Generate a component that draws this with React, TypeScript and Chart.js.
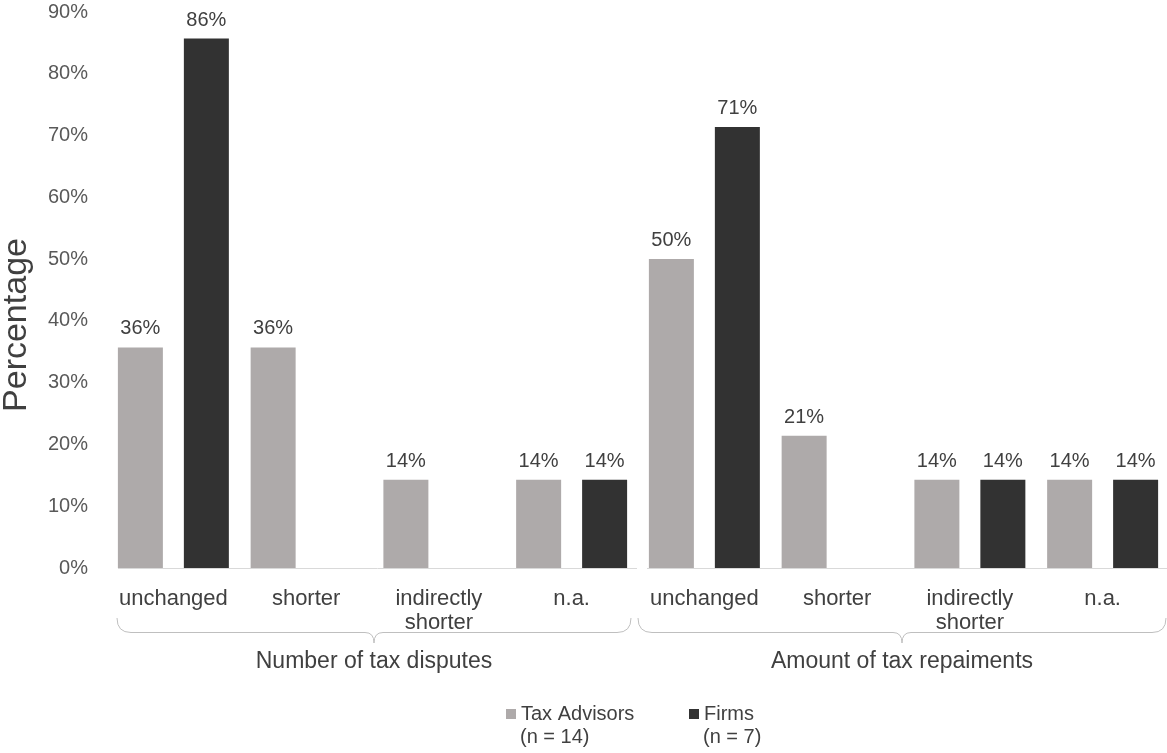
import React, { useEffect, useRef } from "react";
import { Chart, registerables } from "chart.js";

Chart.register(...registerables);

const categories: string[][] = [
  ["unchanged"], ["shorter"], ["indirectly", "shorter"], ["n.a."],
  ["unchanged"], ["shorter"], ["indirectly", "shorter"], ["n.a."],
];
const groupLabels = ["Number of tax disputes", "Amount of tax repaiments"];
const taxAdvisors = [35.7, 35.7, 14.3, 14.3, 50.0, 21.4, 14.3, 14.3];
const firms = [85.7, 0, 0, 14.3, 71.4, 0, 14.3, 14.3];
const seriesNames = ["Tax Advisors", "Firms"];
const seriesNotes = ["(n = 14)", "(n = 7)"];
const yTicks = [0, 10, 20, 30, 40, 50, 60, 70, 80, 90];
const yTitle = "Percentage";

const GRAY = "#AEAAAA";
const DARK = "#323232";
const FONT = "'Liberation Sans', Arial, sans-serif";

const decorPlugin = {
  id: "decor",
  afterDatasetsDraw(chart: any) {
    const ctx = chart.ctx;
    const xs = chart.scales.x;
    const area = chart.chartArea;
    ctx.save();
    // data labels
    ctx.font = `20px ${FONT}`;
    ctx.fillStyle = "#404040";
    ctx.textAlign = "center";
    ctx.textBaseline = "alphabetic";
    chart.data.datasets.forEach((ds: any, di: number) => {
      const meta = chart.getDatasetMeta(di);
      meta.data.forEach((bar: any, i: number) => {
        const v = ds.data[i];
        if (!v) return;
        ctx.fillText(Math.round(v) + "%", bar.x, bar.y - 13);
      });
    });
    // axis line with gap between groups
    const cw = xs.getPixelForValue(1) - xs.getPixelForValue(0);
    const boundary = (xs.getPixelForValue(3) + xs.getPixelForValue(4)) / 2;
    const y0 = Math.round(area.bottom) + 0.5;
    ctx.strokeStyle = "#D9D9D9";
    ctx.lineWidth = 1;
    ctx.beginPath();
    ctx.moveTo(xs.getPixelForValue(0) - cw / 2 + 11, y0);
    ctx.lineTo(boundary - 1, y0);
    ctx.moveTo(boundary + 9, y0);
    ctx.lineTo(area.right, y0);
    ctx.stroke();
    // braces
    const groups = [
      [xs.getPixelForValue(0) - cw / 2 + 10, boundary - 7],
      [boundary, area.right - 3],
    ];
    const top = 618, line = 632.5, tipY = 643;
    ctx.strokeStyle = "#BFBFBF";
    groups.forEach(([a, b], gi) => {
      const tip = (a + b) / 2;
      ctx.beginPath();
      ctx.moveTo(a, top);
      ctx.quadraticCurveTo(a, line, a + 14, line);
      ctx.lineTo(tip - 9, line);
      ctx.quadraticCurveTo(tip, line, tip, tipY);
      ctx.quadraticCurveTo(tip, line, tip + 9, line);
      ctx.lineTo(b - 14, line);
      ctx.quadraticCurveTo(b, line, b, top);
      ctx.stroke();
      ctx.font = `23px ${FONT}`;
      ctx.fillStyle = "#404040";
      ctx.textAlign = "center";
      ctx.textBaseline = "middle";
      ctx.fillText(groupLabels[gi], tip, 662);
    });
    // y title
    ctx.save();
    ctx.translate(17, 325);
    ctx.rotate(-Math.PI / 2);
    ctx.font = `34px ${FONT}`;
    ctx.fillStyle = "#404040";
    ctx.textAlign = "center";
    ctx.textBaseline = "middle";
    ctx.fillText(yTitle, 0, 0);
    ctx.restore();
    // legend
    const lx = [506, 689];
    const colors = [GRAY, DARK];
    ctx.font = `20px ${FONT}`;
    ctx.textAlign = "left";
    ctx.textBaseline = "middle";
    lx.forEach((x, i) => {
      ctx.fillStyle = colors[i];
      ctx.fillRect(x, 709, 10, 10);
      ctx.fillStyle = "#404040";
      ctx.fillText(seriesNames[i], x + 15, 714);
      ctx.fillText(seriesNotes[i], x + 14, 737);
    });
    ctx.restore();
  },
};

export default function App() {
  const ref = useRef<HTMLCanvasElement>(null);
  useEffect(() => {
    if (!ref.current) return;
    const chart = new Chart(ref.current, {
      type: "bar",
      data: {
        labels: categories,
        datasets: [
          { label: seriesNames[0], data: taxAdvisors, backgroundColor: GRAY, categoryPercentage: 0.994, barPercentage: 0.682 },
          { label: seriesNames[1], data: firms, backgroundColor: DARK, categoryPercentage: 0.994, barPercentage: 0.682 },
        ],
      },
      options: {
        animation: false,
        responsive: false,
        layout: { padding: 0 },
        plugins: { legend: { display: false }, tooltip: { enabled: false } },
        scales: {
          x: {
            grid: { display: false },
            border: { display: false },
            ticks: {
              color: "#404040",
              font: { family: FONT, size: 22, lineHeight: 1.1 },
              padding: 11,
              maxRotation: 0,
              autoSkip: false,
            },
            afterFit: (s: any) => { s.height = 185; s.paddingLeft = 0; s.paddingRight = 0; },
          },
          y: {
            min: 0,
            max: 90,
            afterBuildTicks: (s: any) => { s.ticks = yTicks.map((v) => ({ value: v })); },
            grid: { display: false },
            border: { display: false },
            ticks: {
              color: "#595959",
              font: { family: FONT, size: 20 },
              padding: 11,
              callback: (v: any) => v + "%",
            },
            afterFit: (s: any) => { s.width = 107; s.paddingTop = 12; s.paddingBottom = 0; },
          },
        },
      },
      plugins: [decorPlugin],
    });
    return () => chart.destroy();
  }, []);
  return (
    <div style={{ position: "absolute", left: 0, top: 0, width: 1167, height: 753, overflow: "hidden", background: "#fff" }}>
      <canvas ref={ref} width={1169} height={753} style={{ width: 1169, height: 753 }} />
    </div>
  );
}
